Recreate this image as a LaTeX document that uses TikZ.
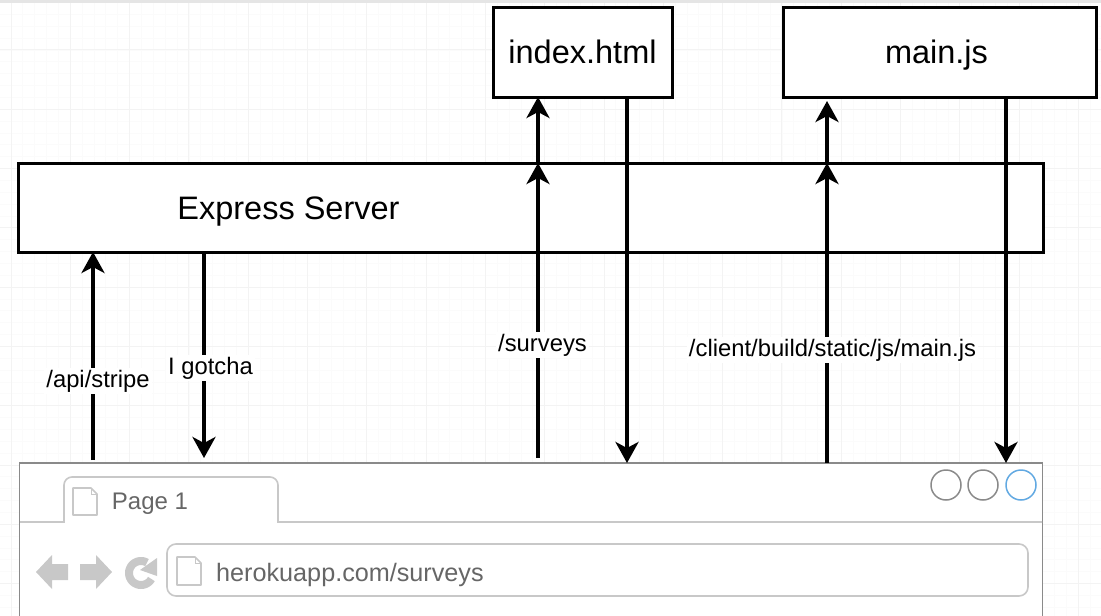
\documentclass[tikz,border=0pt]{standalone}
\usepackage{fontspec}
\setmainfont{Liberation Sans}
\usetikzlibrary{arrows.meta,shapes.geometric}
\definecolor{gridmaj}{HTML}{F3F3F3}
\definecolor{gridmin}{HTML}{FBFBFB}
\definecolor{chrome}{HTML}{C8C8C8}
\definecolor{frameg}{HTML}{8A8A8A}
\definecolor{inkg}{HTML}{666666}
\definecolor{blueb}{HTML}{62A9E2}
\tikzset{
  x=1pt,y=-1pt,
  blackbox/.style={draw=black,line width=3pt,fill=white,inner sep=0pt,outer sep=0pt,font=\fontsize{32.5}{36}\selectfont},
  boxtext/.style={font=\fontsize{32.5}{36}\selectfont,inner sep=0pt},
  flow/.style={draw=black,line width=3.8pt,-{Stealth[length=21pt,width=23pt,inset=6pt]}},
  flowlabel/.style={fill=white,inner sep=2pt,font=\fontsize{23.8}{28}\selectfont,text=black},
  winbtn/.style={circle,draw=frameg,line width=1.5pt,minimum size=30pt,inner sep=0pt},
  pageicon/.style={draw=chrome,line width=1.6pt,fill=white,line join=round},
  navicon/.style={fill=chrome,draw=none},
}
\begin{document}
\begin{tikzpicture}
\useasboundingbox (0,0) rectangle (1101,616);
\clip (0,0) rectangle (1101,616);
\fill[white] (0,0) rectangle (1101,616);
% background grid
\foreach \k in {0,...,92}{
  \draw[gridmin,line width=0.8pt] ({-0.86+11.86*\k},0) -- ({-0.86+11.86*\k},616);}
\foreach \k in {0,...,52}{
  \draw[gridmin,line width=0.8pt] (0,{-9.4+11.86*\k}) -- (1101,{-9.4+11.86*\k});}
\foreach \k in {0,...,18}{
  \draw[gridmaj,line width=1pt] ({11+59.3*\k},0) -- ({11+59.3*\k},616);}
\foreach \k in {0,...,10}{
  \draw[gridmaj,line width=1pt] (0,{-9.4+59.3*\k}) -- (1101,{-9.4+59.3*\k});}
\fill[black!10] (0,0) rectangle (1101,3);
% boxes
\node[blackbox,minimum width=179pt,minimum height=90pt] (index) at (582.5,52) {};
\node[boxtext,anchor=base] (indexlabel) at (582.5,63) {index.html};
\node[blackbox,minimum width=313pt,minimum height=90pt] (mainjs) at (939.5,52) {};
\node[boxtext,anchor=base] (mainlabel) at (936.5,63) {main.js};
\node[blackbox,minimum width=1025pt,minimum height=89pt] (express) at (530.5,207.5) {};
\node[boxtext,anchor=base] (expresslabel) at (288.5,219) {Express Server};
% browser frame
\node[draw=frameg,line width=1.6pt,fill=white,minimum width=1023pt,minimum height=200pt,inner sep=0pt,outer sep=0pt,anchor=north west] (browser) at (19.5,463) {};
% connector x positions and free ends
\coordinate (xa) at (93,0);
\coordinate (xb) at (204,0);
\coordinate (xc) at (538,0);
\coordinate (xd) at (627,0);
\coordinate (xe) at (827,0);
\coordinate (xf) at (1006,0);
\coordinate (mainin) at (827,101);
% connectors
\draw[flow] ([yshift=3pt]browser.north -| xa) -- (express.south -| xa);
\draw[flow] (express.south -| xb) -- ([yshift=5pt]browser.north -| xb);
\draw[flow] ([yshift=5pt]browser.north -| xc) -- (express.north -| xc);
\draw[flow] (express.north -| xc) -- (index.south -| xc);
\draw[flow] (index.south -| xd) -- (browser.north -| xd);
\draw[flow] (browser.north -| xe) -- (express.north -| xe);
\draw[flow] (express.north -| xe) -- (mainin);
\draw[flow] (mainjs.south -| xf) -- (browser.north -| xf);
% connector labels
\node[flowlabel] (lapi) at (98,381) {/api/stripe};
\node[flowlabel] (lgot) at (210.5,368) {I gotcha};
\node[flowlabel] (lsur) at (542.5,345) {/surveys};
\node[flowlabel] (lcli) at (832.5,350) {/client/build/static/js/main.js};
% browser chrome
\draw[chrome,line width=1.6pt,fill=white]
  (20,522) -- (64,522) [rounded corners=8pt] -- (64,477) -- (278,477) [sharp corners] -- (278,522) -- (1042,522);
\draw[pageicon] (73,488) -- (91,488) -- (97,494) -- (97,515) -- (73,515) -- cycle;
\draw[chrome,line width=1pt] (91,488) -- (91,494) -- (97,494);
\node[font=\fontsize{24}{28}\selectfont,text=inkg] (tabtext) at (150,504) {Page 1};
\node[winbtn] (b1) at (946,485) {};
\node[winbtn] (b2) at (983,485) {};
\node[winbtn,draw=blueb] (b3) at (1021,485) {};
\fill[navicon] (36,572) -- (52,555) -- (52,564) -- (68,564) -- (68,580) -- (52,580) -- (52,589) -- cycle;
\fill[navicon] (112,572) -- (96,555) -- (96,564) -- (80,564) -- (80,580) -- (96,580) -- (96,589) -- cycle;
\draw[chrome,line width=8pt] plot[domain=30:300,samples=40,smooth] ({141+12*cos(\x)},{573+12*sin(\x)});
\fill[navicon] (157,558) -- (157,576) -- (140,570) -- cycle;
\draw[chrome,line width=1.6pt,fill=white,rounded corners=9pt] (167,544) rectangle (1028,596);
\draw[pageicon] (177,557) -- (195,557) -- (201,563) -- (201,585) -- (177,585) -- cycle;
\draw[chrome,line width=1pt] (195,557) -- (195,563) -- (201,563);
\node[font=\fontsize{25.2}{29}\selectfont,text=inkg,anchor=base west,inner sep=0pt] (addr) at (216,581) {herokuapp.com/surveys};
\end{tikzpicture}
\end{document}
